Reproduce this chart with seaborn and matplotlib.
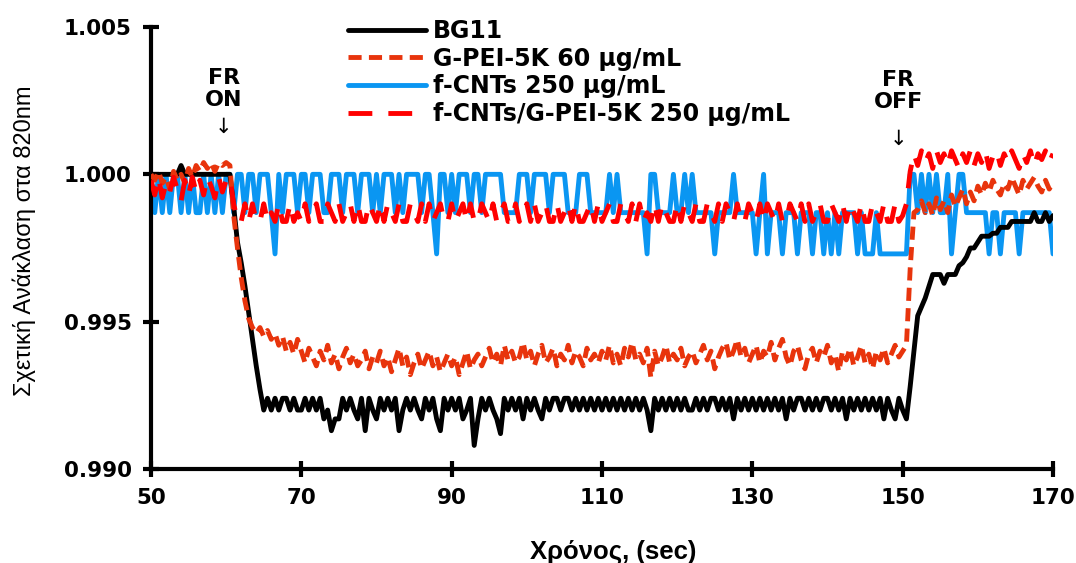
import numpy as np
import matplotlib
matplotlib.use("Agg")
import matplotlib.pyplot as plt
import seaborn as sns
from matplotlib.ticker import FormatStrFormatter

# time axis, 0.5 s sampling
time = np.arange(50, 170.5, 0.5)

bg11 = [
    1.0, 1.0, 1.0, 1.0, 1.0, 1.0, 1.0, 1.0, 1.0003, 1.0, 1.0, 1.0, 1.0, 1.0, 1.0, 1.0, 1.0, 1.0, 1.0, 1.0,
    1.0, 1.0, 0.9989, 0.9977, 0.9970, 0.9962, 0.9953, 0.9944, 0.9935, 0.9927, 0.9920, 0.9924, 0.9920, 0.9924, 0.9920, 0.9924, 0.9924, 0.9920, 0.9924, 0.9920,
    0.9920, 0.9924, 0.9920, 0.9924, 0.9920, 0.9924, 0.9917, 0.9920, 0.9913, 0.9917, 0.9917, 0.9924, 0.9920, 0.9924, 0.9920, 0.9917, 0.9924, 0.9913, 0.9924, 0.9920,
    0.9917, 0.9924, 0.9920, 0.9924, 0.9920, 0.9924, 0.9913, 0.9920, 0.9924, 0.9920, 0.9924, 0.9920, 0.9917, 0.9924, 0.9920, 0.9924, 0.9917, 0.9913, 0.9924, 0.9920,
    0.9924, 0.9920, 0.9924, 0.9917, 0.9920, 0.9924, 0.9908, 0.9917, 0.9924, 0.9920, 0.9924, 0.9920, 0.9917, 0.9912, 0.9924, 0.9920, 0.9924, 0.9920, 0.9924, 0.9917,
    0.9924, 0.9920, 0.9924, 0.9920, 0.9917, 0.9924, 0.9920, 0.9924, 0.9924, 0.9920, 0.9924, 0.9924, 0.9920, 0.9924, 0.9920, 0.9924, 0.9920, 0.9924, 0.9920, 0.9924,
    0.9920, 0.9924, 0.9920, 0.9924, 0.9920, 0.9924, 0.9920, 0.9924, 0.9920, 0.9924, 0.9920, 0.9924, 0.9920, 0.9913, 0.9924, 0.9920, 0.9924, 0.9920, 0.9924, 0.9920,
    0.9924, 0.9920, 0.9924, 0.9920, 0.9920, 0.9924, 0.9920, 0.9924, 0.9920, 0.9924, 0.9924, 0.9920, 0.9924, 0.9920, 0.9924, 0.9917, 0.9924, 0.9920, 0.9924, 0.9920,
    0.9924, 0.9920, 0.9924, 0.9920, 0.9924, 0.9920, 0.9924, 0.9920, 0.9924, 0.9917, 0.9924, 0.9920, 0.9924, 0.9924, 0.9920, 0.9924, 0.9920, 0.9924, 0.9920, 0.9924,
    0.9924, 0.9920, 0.9924, 0.9920, 0.9924, 0.9917, 0.9924, 0.9920, 0.9924, 0.9920, 0.9924, 0.9920, 0.9924, 0.9920, 0.9924, 0.9917, 0.9924, 0.9920, 0.9917, 0.9924,
    0.9920, 0.9917, 0.9928, 0.9940, 0.9952, 0.9955, 0.9958, 0.9962, 0.9966, 0.9966, 0.9966, 0.9963, 0.9966, 0.9966, 0.9966, 0.9969, 0.9970, 0.9972, 0.9975, 0.9975,
    0.9977, 0.9979, 0.9979, 0.9979, 0.9980, 0.9980, 0.9982, 0.9982, 0.9982, 0.9984, 0.9984, 0.9984, 0.9984, 0.9984, 0.9984, 0.9987, 0.9984, 0.9984, 0.9987, 0.9984,
    0.9986,
]

gpei = [
    1.0000, 0.9998, 1.0001, 0.9997, 0.9999, 0.9995, 1.0001, 0.9998, 1.0000, 0.9997, 1.0002, 0.9999, 1.0003, 1.0001, 1.0004, 1.0002, 1.0004, 1.0001, 1.0004, 1.0003,
    1.0004, 1.0003, 0.9986, 0.9975, 0.9965, 0.9957, 0.9951, 0.9948, 0.9946, 0.9948, 0.9945, 0.9947, 0.9944, 0.9946, 0.9942, 0.9945, 0.9940, 0.9943, 0.9939, 0.9944,
    0.9940, 0.9936, 0.9941, 0.9938, 0.9935, 0.9940, 0.9937, 0.9942, 0.9936, 0.9939, 0.9934, 0.9938, 0.9941, 0.9936, 0.9939, 0.9935, 0.9937, 0.9940, 0.9934, 0.9938,
    0.9936, 0.9940, 0.9935, 0.9938, 0.9933, 0.9937, 0.9941, 0.9935, 0.9938, 0.9932, 0.9936, 0.9939, 0.9934, 0.9937, 0.9940, 0.9935, 0.9938, 0.9933, 0.9936, 0.9939,
    0.9935, 0.9938, 0.9932, 0.9936, 0.9940, 0.9934, 0.9937, 0.9939, 0.9935, 0.9938, 0.9941, 0.9936, 0.9939, 0.9935, 0.9942, 0.9937, 0.9940, 0.9936, 0.9938, 0.9943,
    0.9937, 0.9940, 0.9935, 0.9939, 0.9942, 0.9936, 0.9938, 0.9941, 0.9935, 0.9939, 0.9937, 0.9942, 0.9936, 0.9940, 0.9938, 0.9935, 0.9941, 0.9937, 0.9939, 0.9936,
    0.9940, 0.9937, 0.9942, 0.9936, 0.9939, 0.9935, 0.9941, 0.9938, 0.9943, 0.9937, 0.9939, 0.9936, 0.9941, 0.9931, 0.9940, 0.9935, 0.9938, 0.9942, 0.9936, 0.9939,
    0.9937, 0.9941, 0.9935, 0.9938, 0.9940, 0.9936, 0.9939, 0.9942, 0.9937, 0.9940, 0.9934, 0.9938, 0.9941, 0.9943, 0.9937, 0.9940, 0.9944, 0.9938, 0.9941, 0.9936,
    0.9939, 0.9942, 0.9936, 0.9940, 0.9938, 0.9943, 0.9937, 0.9941, 0.9944, 0.9938, 0.9935, 0.9940, 0.9942, 0.9937, 0.9934, 0.9939, 0.9941, 0.9936, 0.9940, 0.9938,
    0.9942, 0.9936, 0.9939, 0.9933, 0.9940, 0.9937, 0.9941, 0.9935, 0.9938, 0.9942, 0.9936, 0.9939, 0.9934, 0.9940, 0.9937, 0.9941, 0.9936, 0.9939, 0.9942, 0.9938,
    0.9940, 0.9942, 0.9968, 0.9987, 0.9988, 0.9991, 0.9987, 0.9990, 0.9986, 0.9992, 0.9988, 0.9991, 0.9987, 0.9993, 0.9989, 0.9992, 0.9995, 0.9990, 0.9994, 0.9991,
    0.9996, 0.9993, 0.9997, 0.9994, 0.9998, 0.9995, 0.9993, 0.9997, 0.9995, 0.9999, 0.9996, 0.9993, 0.9998, 0.9995, 0.9997, 0.9999, 0.9996, 0.9994, 0.9998, 0.9995,
    0.9997,
]

fcnt = [
    1.0, 0.9987, 1.0, 0.9987, 1.0, 0.9987, 1.0, 1.0, 0.9987, 1.0, 0.9987, 1.0, 0.9987, 0.9987, 1.0, 0.9987, 1.0, 0.9987, 1.0, 0.9987,
    1.0, 1.0, 0.9987, 1.0, 1.0, 0.9987, 1.0, 1.0, 0.9987, 1.0, 1.0, 1.0, 0.9987, 0.9973, 1.0, 0.9987, 1.0, 1.0, 1.0, 0.9987,
    1.0, 1.0, 0.9987, 1.0, 1.0, 1.0, 0.9987, 0.9987, 1.0, 1.0, 1.0, 0.9987, 1.0, 1.0, 1.0, 0.9987, 1.0, 1.0, 1.0, 0.9987,
    1.0, 0.9987, 1.0, 1.0, 1.0, 0.9987, 1.0, 0.9987, 1.0, 1.0, 1.0, 1.0, 0.9987, 1.0, 1.0, 0.9987, 0.9973, 1.0, 1.0, 0.9987,
    1.0, 0.9987, 1.0, 1.0, 1.0, 0.9987, 1.0, 1.0, 0.9987, 1.0, 1.0, 1.0, 1.0, 1.0, 0.9987, 0.9987, 0.9987, 0.9987, 1.0, 1.0,
    1.0, 0.9987, 1.0, 1.0, 1.0, 1.0, 0.9987, 1.0, 1.0, 1.0, 1.0, 0.9987, 0.9987, 0.9987, 1.0, 1.0, 1.0, 0.9987, 0.9987, 0.9987,
    0.9987, 0.9987, 1.0, 0.9987, 1.0, 0.9987, 0.9987, 0.9987, 0.9987, 0.9987, 0.9987, 0.9987, 0.9973, 1.0, 1.0, 0.9987, 0.9987, 0.9987, 0.9987, 1.0,
    0.9987, 0.9987, 1.0, 0.9987, 1.0, 0.9987, 0.9987, 0.9987, 0.9987, 0.9987, 0.9973, 0.9987, 0.9987, 0.9987, 0.9987, 1.0, 0.9987, 0.9987, 0.9987, 0.9987,
    0.9987, 0.9973, 0.9987, 1.0, 0.9973, 0.9987, 0.9987, 0.9987, 0.9973, 0.9987, 0.9987, 0.9987, 0.9973, 0.9987, 0.9987, 0.9987, 0.9973, 0.9987, 0.9987, 0.9973,
    0.9987, 0.9973, 0.9987, 0.9973, 0.9987, 0.9987, 0.9987, 0.9987, 0.9973, 0.9987, 0.9973, 0.9973, 0.9973, 0.9987, 0.9973, 0.9973, 0.9973, 0.9973, 0.9973, 0.9973,
    0.9973, 0.9973, 1.0, 1.0, 0.9987, 1.0, 0.9987, 1.0, 0.9987, 1.0, 0.9987, 0.9987, 1.0, 0.9973, 0.9987, 1.0, 1.0, 0.9987, 0.9987, 0.9987,
    0.9987, 0.9987, 0.9987, 0.9973, 0.9987, 0.9987, 0.9973, 0.9987, 0.9987, 0.9987, 0.9987, 0.9973, 0.9987, 0.9987, 0.9987, 0.9987, 0.9987, 0.9987, 0.9987, 0.9987,
    0.9973,
]

fcnt_gpei = [
    0.9998, 0.9993, 0.9999, 0.9992, 0.9997, 0.9994, 0.9999, 0.9995, 0.9991, 0.9998, 0.9993, 0.9999, 0.9994, 0.9998, 0.9993, 0.9999, 0.9996, 0.9992, 0.9999, 0.9994,
    0.9998, 0.9999, 0.9990, 0.9984, 0.9984, 0.9990, 0.9984, 0.9990, 0.9984, 0.9984, 0.9990, 0.9984, 0.9987, 0.9984, 0.9990, 0.9984, 0.9984, 0.9990, 0.9984, 0.9987,
    0.9984, 0.9990, 0.9984, 0.9987, 0.9990, 0.9984, 0.9984, 0.9990, 0.9987, 0.9984, 0.9990, 0.9984, 0.9987, 0.9990, 0.9984, 0.9990, 0.9984, 0.9984, 0.9990, 0.9987,
    0.9984, 0.9990, 0.9984, 0.9990, 0.9987, 0.9984, 0.9990, 0.9984, 0.9984, 0.9990, 0.9987, 0.9984, 0.9990, 0.9984, 0.9990, 0.9984, 0.9987, 0.9990, 0.9984, 0.9984,
    0.9990, 0.9984, 0.9987, 0.9990, 0.9984, 0.9990, 0.9984, 0.9984, 0.9990, 0.9987, 0.9984, 0.9990, 0.9984, 0.9987, 0.9990, 0.9984, 0.9984, 0.9990, 0.9984, 0.9987,
    0.9990, 0.9984, 0.9990, 0.9984, 0.9987, 0.9990, 0.9984, 0.9984, 0.9990, 0.9984, 0.9987, 0.9990, 0.9984, 0.9990, 0.9984, 0.9984, 0.9987, 0.9990, 0.9984, 0.9990,
    0.9984, 0.9987, 0.9990, 0.9984, 0.9984, 0.9990, 0.9987, 0.9984, 0.9990, 0.9984, 0.9990, 0.9984, 0.9987, 0.9984, 0.9990, 0.9984, 0.9990, 0.9987, 0.9984, 0.9984,
    0.9990, 0.9984, 0.9990, 0.9987, 0.9984, 0.9990, 0.9984, 0.9984, 0.9990, 0.9987, 0.9984, 0.9990, 0.9984, 0.9990, 0.9987, 0.9984, 0.9990, 0.9984, 0.9984, 0.9990,
    0.9987, 0.9984, 0.9990, 0.9984, 0.9990, 0.9987, 0.9984, 0.9990, 0.9984, 0.9984, 0.9990, 0.9987, 0.9984, 0.9990, 0.9984, 0.9990, 0.9984, 0.9987, 0.9990, 0.9984,
    0.9984, 0.9990, 0.9987, 0.9984, 0.9990, 0.9984, 0.9990, 0.9987, 0.9984, 0.9990, 0.9984, 0.9984, 0.9990, 0.9987, 0.9984, 0.9990, 0.9984, 0.9984, 0.9990, 0.9984,
    0.9986, 0.9990, 1.0001, 1.0007, 1.0003, 1.0008, 1.0004, 1.0007, 1.0002, 1.0008, 1.0004, 1.0007, 1.0003, 1.0008, 1.0005, 1.0002, 1.0007, 1.0004, 1.0008, 1.0003,
    1.0007, 1.0004, 1.0008, 1.0002, 1.0006, 1.0008, 1.0003, 1.0007, 1.0004, 1.0008, 1.0005, 1.0002, 1.0007, 1.0004, 1.0008, 1.0003, 1.0007, 1.0005, 1.0008, 1.0004,
    1.0007,
]

labels = ["BG11", "G-PEI-5K 60 μg/mL", "f-CNTs 250 μg/mL", "f-CNTs/G-PEI-5K 250 μg/mL"]
colors = ["#000000", "#E8340C", "#0A96F2", "#FF0000"]

sns.set_style("ticks")
plt.rcParams['font.family'] = ['DejaVu Sans']
plt.rcParams['text.color'] = 'black'
plt.rcParams['axes.labelcolor'] = 'black'

fig = plt.figure(figsize=(10.76, 5.63), dpi=100)
ax = fig.add_axes([151 / 1076, 94 / 563, 902 / 1076, 442 / 563])

lw = 3.5
sns.lineplot(x=time, y=fcnt, ax=ax, color=colors[2], lw=lw, label=labels[2], zorder=2)
sns.lineplot(x=time, y=bg11, ax=ax, color=colors[0], lw=lw, label=labels[0], zorder=3)
sns.lineplot(x=time, y=gpei, ax=ax, color=colors[1], lw=lw, label=labels[1], zorder=4,
             linestyle=(0, (2.7, 1.5)))
sns.lineplot(x=time, y=fcnt_gpei, ax=ax, color=colors[3], lw=lw, label=labels[3], zorder=5,
             linestyle=(0, (4.9, 3.3)))

ax.set_xlim(50, 170)
ax.set_ylim(0.990, 1.005)
ax.set_xticks([50, 70, 90, 110, 130, 150, 170])
ax.set_yticks([0.990, 0.995, 1.000, 1.005])
ax.yaxis.set_major_formatter(FormatStrFormatter('%.3f'))

for s in ["top", "right"]:
    ax.spines[s].set_visible(False)
for s in ["left", "bottom"]:
    ax.spines[s].set_linewidth(3)
    ax.spines[s].set_color("black")
ax.tick_params(axis="both", direction="inout", length=12, width=3, colors="black",
               labelcolor="black", labelsize=15.5, pad=8)
for t in ax.get_xticklabels() + ax.get_yticklabels():
    t.set_fontweight("bold")

ax.set_ylabel("Σχετική Ανάκλαση στα 820nm", family=["Liberation Sans", "DejaVu Sans"],
              fontsize=17, color="black")
ax.yaxis.set_label_coords(-0.128, 0.516)
ax.set_xlabel("Χρόνος, (sec)", family=["Liberation Sans", "DejaVu Sans"],
              fontsize=18.5, fontweight="bold", color="black")
ax.xaxis.set_label_coords(0.512, -0.16)

ax.text(59.7, 1.00289, "FR\nON", ha="center", va="center", fontsize=16,
        fontweight="bold", linespacing=1.1, color="black")
ax.text(59.7, 1.0016, "↓", ha="center", va="center", fontsize=15, color="black")
ax.text(149.4, 1.00282, "FR\nOFF", ha="center", va="center", fontsize=16,
        fontweight="bold", linespacing=1.1, color="black")
ax.text(149.4, 1.0012, "↓", ha="center", va="center", fontsize=15, color="black")

handles, labs = ax.get_legend_handles_labels()
order = [labs.index(l) for l in labels]
leg = ax.legend([handles[i] for i in order], [labs[i] for i in order],
                loc="upper left", bbox_to_anchor=(348 / 1076, 0.966),
                bbox_transform=fig.transFigure,
                frameon=False, prop={"weight": "bold", "size": 17},
                handlelength=3.3, handletextpad=0.3, labelspacing=0.15, borderpad=0,
                borderaxespad=0)
for t in leg.get_texts():
    t.set_color("black")

fig.savefig("out.png", dpi=100)
